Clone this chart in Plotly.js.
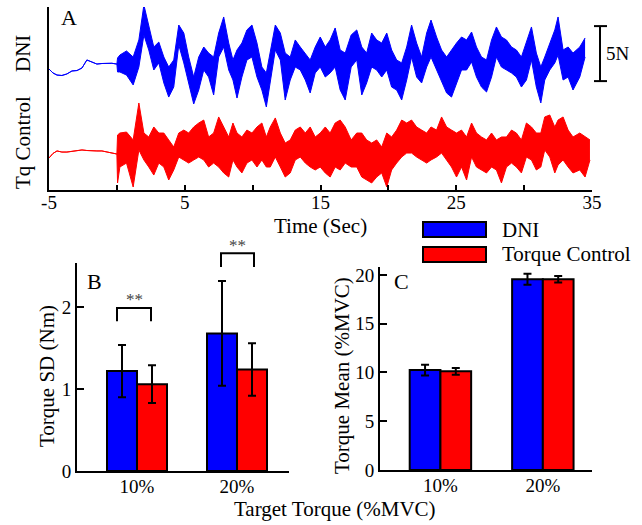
<!DOCTYPE html>
<html><head><meta charset="utf-8">
<script src="https://cdn.plot.ly/plotly-3.0.1.min.js"></script>
<style>html,body{margin:0;padding:0;background:#fff}#chart{width:642px;height:525px}</style>
</head><body><div id="chart"></div>
<script>
// ---------- Panel A: force traces (N, arbitrary offset) ----------
const preTime = [-5.00,-4.71,-4.41,-4.05,-3.68,-3.31,-2.94,-2.57,-2.21,-1.84,-1.47,-1.10,-0.74,-0.37,0.00];
const dniPre  = [11.00,10.64,10.45,10.41,10.55,10.82,10.86,11.09,11.82,11.64,11.45,11.50,11.52,11.52,11.45];
const tqPre   = [2.91,3.32,3.55,3.45,3.45,3.50,3.59,3.64,3.59,3.55,3.55,3.55,3.45,3.41,3.27];

const sigTime = [0.05,0.22,0.71,1.20,1.62,1.99,2.35,2.72,3.09,3.46,3.82,4.19,4.56,4.93,5.29,5.66,6.03,6.40,6.76,7.13,7.50,7.87,8.24,8.55,8.85,9.21,9.58,9.95,10.32,10.68,11.01,11.30,11.67,12.04,12.40,12.77,13.14,13.51,13.88,14.24,14.61,14.98,15.35,15.71,16.08,16.45,16.82,17.26,17.67,18.04,18.40,18.77,19.14,19.51,19.88,20.24,20.61,20.98,21.35,21.71,22.08,22.45,22.82,23.14,23.55,23.92,24.29,24.65,25.02,25.39,25.76,26.13,26.49,26.86,27.23,27.60,27.96,28.33,28.70,29.07,29.43,29.80,30.17,30.54,30.90,31.23,31.52,31.89,32.26,32.50,32.87,33.24,33.60,34.10,34.49,34.85];

const dniUpper = [12.00,12.27,12.64,12.09,13.64,16.82,15.00,13.00,13.45,12.09,11.18,11.82,15.00,14.27,12.09,10.27,12.09,13.00,12.45,12.09,14.27,15.73,13.36,11.82,12.73,13.36,14.55,15.00,13.36,11.18,10.64,12.45,15.00,14.27,12.45,12.09,13.64,13.00,12.45,11.82,13.00,13.91,13.00,13.64,14.73,12.73,12.45,14.09,14.55,13.00,12.45,14.27,13.64,13.36,14.27,12.73,11.82,11.55,13.00,15.00,13.36,12.09,14.27,15.45,13.91,12.73,12.09,12.73,13.36,13.91,13.64,14.36,13.00,12.09,11.82,13.64,14.82,13.91,13.64,13.00,12.73,12.09,13.36,14.82,12.45,11.18,12.09,13.36,14.55,15.73,12.73,13.00,12.45,13.00,13.82];
const dniLower = [10.73,10.73,10.45,9.55,11.18,14.09,12.73,10.91,11.55,9.73,8.45,9.36,13.18,11.55,9.73,7.82,9.09,10.91,10.27,8.64,12.09,13.00,10.91,10.00,8.36,10.27,11.82,12.09,10.27,9.09,7.55,10.00,12.73,11.82,8.18,10.00,11.18,10.91,10.00,8.82,10.64,11.18,10.27,10.64,11.18,9.09,8.18,11.18,11.82,8.64,9.73,11.18,10.91,10.27,10.91,9.36,9.09,8.18,10.00,12.09,10.27,9.73,11.18,12.09,10.91,10.00,8.82,8.45,9.73,10.91,10.91,11.64,10.27,9.36,8.91,10.27,12.09,11.18,10.91,10.64,10.27,9.36,10.00,11.82,9.36,7.91,10.00,10.91,11.55,12.27,10.00,10.27,9.09,10.27,12.09];

const tqUpper = [5.00,5.18,5.27,4.55,7.91,5.18,4.82,5.73,5.18,5.18,4.55,3.91,5.18,5.45,5.18,5.73,6.09,6.36,4.82,5.18,6.64,5.73,4.82,6.09,5.18,4.82,5.45,5.18,5.73,6.09,4.82,5.73,6.55,5.18,4.27,4.55,5.45,5.73,5.18,5.73,4.82,5.18,5.73,5.18,6.09,6.36,5.73,4.55,5.18,5.18,4.55,4.27,4.55,3.91,5.18,4.82,5.45,6.36,6.09,6.36,5.73,5.45,5.18,5.73,5.45,6.64,5.73,5.45,5.18,5.45,4.82,6.09,5.18,4.82,4.55,5.18,4.55,4.82,4.82,5.45,5.18,4.55,6.09,5.73,5.18,5.18,6.64,6.82,5.73,6.36,6.64,5.45,4.82,5.18,4.82,4.55];
const tqLower = [0.64,2.09,2.45,0.27,3.64,2.73,2.09,1.36,2.45,2.09,0.91,1.82,3.00,2.73,2.45,2.73,3.00,2.73,2.09,2.45,2.09,1.55,1.18,2.73,2.09,1.55,2.45,2.73,2.09,2.73,2.09,2.09,3.00,2.09,1.18,1.55,2.73,3.00,2.45,2.09,1.82,2.09,1.55,1.18,2.09,1.82,2.45,2.09,2.09,1.18,0.91,0.64,1.18,1.55,0.27,1.82,2.45,3.00,3.36,3.36,3.00,2.73,2.45,2.73,3.00,3.36,2.73,2.09,1.18,2.09,0.91,3.00,2.09,1.82,1.55,2.09,1.82,0.64,2.09,2.45,2.09,1.55,3.00,2.73,1.82,2.09,3.64,3.00,1.55,2.27,2.73,2.09,1.55,1.82,1.18,2.73];

const timeTicks = [-5,0,5,10,15,20,25,30,35];
const timeTickText = ['-5','','5','','15','','25','','35'];
const scaleBarBase = 9.9, scaleBarN = 5;

// ---------- Panels B and C ----------
const targets = ['10%','20%'];
const sdDNI = [1.22, 1.68], sdDNIErr = [0.32, 0.64];
const sdTq  = [1.06, 1.24], sdTqErr  = [0.23, 0.32];
const meanDNI = [10.25, 19.56], meanDNIErr = [0.55, 0.56];
const meanTq  = [10.12, 19.56], meanTqErr  = [0.35, 0.33];
const sdTicks = [0,1,2];
const meanTicks = [0,5,10,15,20];

const BLUE = '#0000ff', RED = '#ff0000';
const FONT = '"Liberation Serif", "Times New Roman", "DejaVu Serif", serif';
const W = 642, H = 525;
const X = px => px / W;
const Y = py => 1 - py / H;

const domAx = [X(49), X(592)], domAy = [Y(190), Y(7)];
const domBx = [X(77), X(289)], domBy = [Y(471), Y(263)];
const domCx = [X(380), X(592)], domCy = [Y(470), Y(266.7)];
const rangeA = [0, 183/11], rangeB = [0, 2.54], rangeC = [0, 20.85];
const bY = v => domBy[0] + v / rangeB[1] * (domBy[1] - domBy[0]);

function band(lower, upper, pre, color) {
  return [
    {x: preTime.concat(sigTime), y: pre.concat(lower), type: 'scatter', mode: 'lines',
     line: {color: color, width: 1}, xaxis: 'x', yaxis: 'y', showlegend: false, hoverinfo: 'skip'},
    {x: preTime.concat(sigTime), y: pre.concat(upper), type: 'scatter', mode: 'lines',
     line: {color: color, width: 1}, fill: 'tonexty', fillcolor: color,
     xaxis: 'x', yaxis: 'y', showlegend: false, hoverinfo: 'skip'}
  ];
}

function bars(y, err, color, xa, ya, name) {
  return {x: targets, y: y, type: 'bar', name: name, xaxis: xa, yaxis: ya, showlegend: false,
    marker: {color: color, line: {color: '#000', width: 2}},
    error_y: {type: 'data', array: err, visible: true, color: '#000', thickness: 2, width: 4}};
}

const data = [
  ...band(dniLower, dniUpper, dniPre, BLUE),
  ...band(tqLower, tqUpper, tqPre, RED),
  bars(sdDNI, sdDNIErr, BLUE, 'x2', 'y2', 'DNI'),
  bars(sdTq, sdTqErr, RED, 'x2', 'y2', 'Torque Control'),
  bars(meanDNI, meanDNIErr, BLUE, 'x3', 'y3', 'DNI'),
  bars(meanTq, meanTqErr, RED, 'x3', 'y3', 'Torque Control')
];

const baseAxis = {showgrid: false, zeroline: false, showline: true, linecolor: '#000', linewidth: 2,
  tickfont: {family: FONT, size: 19, color: '#000'}, tickcolor: '#000', tickwidth: 2, fixedrange: true};

function ann(text, x, y, size, extra) {
  return Object.assign({text: text, xref: 'paper', yref: 'paper', x: x, y: y, showarrow: false,
    xanchor: 'center', yanchor: 'middle', font: {family: FONT, size: size, color: '#000'}}, extra || {});
}

const layout = {
  width: W, height: H, margin: {l: 0, r: 0, t: 0, b: 0},
  paper_bgcolor: '#fff', plot_bgcolor: 'rgba(0,0,0,0)',
  font: {family: FONT, color: '#000'},
  barmode: 'group', bargap: 0.4, bargroupgap: 0,
  xaxis: Object.assign({}, baseAxis, {domain: domAx, range: [-5, 35], anchor: 'y',
    tickmode: 'array', tickvals: timeTicks, ticktext: timeTickText, ticks: 'inside', ticklen: 5,
    ticklabelstandoff: -6}),
  yaxis: Object.assign({}, baseAxis, {domain: domAy, range: rangeA, anchor: 'x',
    showticklabels: false, ticks: ''}),
  xaxis2: Object.assign({}, baseAxis, {domain: domBx, range: [-0.6, 1.52], anchor: 'y2', type: 'category', ticks: '',
    ticklabelstandoff: -3}),
  yaxis2: Object.assign({}, baseAxis, {domain: domBy, range: rangeB, anchor: 'x2',
    tickmode: 'array', tickvals: sdTicks, ticks: 'inside', ticklen: 7}),
  xaxis3: Object.assign({}, baseAxis, {domain: domCx, range: [-0.59, 1.48], anchor: 'y3', type: 'category', ticks: '',
    ticklabelstandoff: -3}),
  yaxis3: Object.assign({}, baseAxis, {domain: domCy, range: rangeC, anchor: 'x3',
    tickmode: 'array', tickvals: meanTicks, ticks: 'inside', ticklen: 7}),
  shapes: [
    // 5N scale bar
    {type: 'line', xref: 'paper', yref: 'y', x0: X(600), x1: X(600), y0: scaleBarBase, y1: scaleBarBase + scaleBarN, line: {color: '#000', width: 2}},
    {type: 'line', xref: 'paper', yref: 'y', x0: X(594), x1: X(607), y0: scaleBarBase, y1: scaleBarBase, line: {color: '#000', width: 2}},
    {type: 'line', xref: 'paper', yref: 'y', x0: X(594), x1: X(607), y0: scaleBarBase + scaleBarN, y1: scaleBarBase + scaleBarN, line: {color: '#000', width: 2}},
    // significance brackets
    {type: 'path', xref: 'x2', yref: 'paper', path: `M-0.2,${bY(1.83)} L-0.2,${bY(1.99)} L0.14,${bY(1.99)} L0.14,${bY(1.83)}`, line: {color: '#000', width: 2}},
    {type: 'path', xref: 'x2', yref: 'paper', path: `M0.84,${bY(2.49)} L0.84,${bY(2.66)} L1.17,${bY(2.66)} L1.17,${bY(2.49)}`, line: {color: '#000', width: 2}},
    // legend boxes
    {type: 'rect', xref: 'paper', yref: 'paper', x0: X(423), x1: X(486), y0: Y(237), y1: Y(222), fillcolor: BLUE, line: {color: '#000', width: 2}},
    {type: 'rect', xref: 'paper', yref: 'paper', x0: X(423), x1: X(486), y0: Y(262), y1: Y(247), fillcolor: RED, line: {color: '#000', width: 2}}
  ],
  annotations: [
    ann('A', X(69), Y(18), 22),
    ann('B', X(95), Y(281), 22),
    ann('C', X(401), Y(281), 22),
    ann('DNI', X(23), Y(53), 21, {textangle: -90}),
    ann('Tq Control', X(23), Y(142), 21, {textangle: -90}),
    ann('Time (Sec)', X(320.5), Y(226), 21),
    ann('5N', X(604), scaleBarBase + scaleBarN / 2, 19, {yref: 'y', xanchor: 'left'}),
    ann('Torque SD (Nm)', X(47), Y(376), 21, {textangle: -90}),
    ann('Torque Mean (%MVC)', X(342), Y(375), 21, {textangle: -90}),
    ann('Target Torque (%MVC)', X(335), Y(509), 21),
    ann('**', -0.03, bY(2.10), 17, {xref: 'x2', font: {family: FONT, size: 17, color: '#444'}}),
    ann('**', 1.0, bY(2.75), 17, {xref: 'x2', font: {family: FONT, size: 17, color: '#444'}}),
    ann('DNI', X(500), Y(230), 21, {xanchor: 'left'}),
    ann('Torque Control', X(500), Y(254), 21, {xanchor: 'left'})
  ]
};

Plotly.newPlot('chart', data, layout, {displayModeBar: false, staticPlot: true});
</script></body></html>
